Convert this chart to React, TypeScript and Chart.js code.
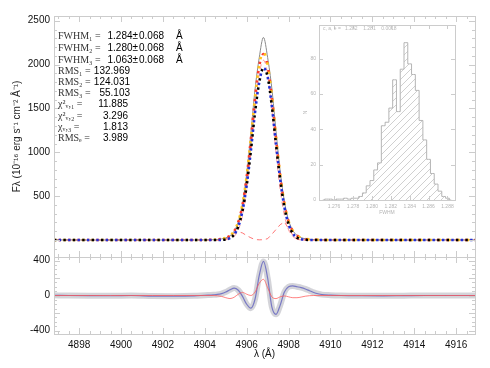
import React, { useEffect, useRef } from 'react';
import { Chart, registerables } from 'chart.js';

Chart.register(...registerables);

// ---------- data: line profile (top panel) ----------
const wavelength = [
  4896.8, 4897.5, 4898.5, 4899.5, 4900.5, 4901.5, 4902.5, 4903.5, 4904.0,
  4904.4, 4904.6, 4904.8, 4905.0, 4905.2, 4905.4, 4905.6, 4905.8, 4906.0, 4906.2,
  4906.4, 4906.6, 4906.8, 4907.0, 4907.2, 4907.4, 4907.6, 4907.8, 4908.0, 4908.2,
  4908.4, 4908.6, 4908.8, 4909.0, 4909.2, 4909.4, 4909.6,
  4910.0, 4910.5, 4911.5, 4912.5, 4913.5, 4914.5, 4915.5, 4916.5, 4916.9,
];
const observedFlux = [
  0, 1, -1, 0, 1, 0, -1, 0, 1,
  3, 6, 12, 24, 48, 100, 210, 420, 760, 1220, 1720, 2080, 2310, 2080, 1730, 1240, 780, 440,
  225, 110, 54, 27, 14, 7, 4, 2, 1,
  0, 0, 1, 0, -1, 0, 1, 0, 0,
];
const fit1Flux = [
  0, 0, 0, 0, 0, 0, 0, 0, 0,
  3, 6, 12, 24, 50, 102, 210, 410, 730, 1160, 1630, 2000, 2140, 2000, 1640, 1170, 740, 420,
  215, 105, 52, 26, 13, 7, 4, 2, 1,
  0, 0, 0, 0, 0, 0, 0, 0, 0,
];
const fit2Flux = [
  0, 0, 0, 0, 0, 0, 0, 0, 0,
  3, 6, 11, 23, 48, 98, 205, 400, 720, 1150, 1620, 1985, 2120, 1985, 1625, 1160, 730, 410,
  210, 102, 50, 25, 12, 6, 3, 2, 1,
  0, 0, 0, 0, 0, 0, 0, 0, 0,
];
const fit3Flux = [
  0, 0, 0, 0, 0, 0, 0, 0, 0,
  0, 0, 2, 7, 22, 62, 155, 333, 625, 1020, 1460, 1800, 1960, 1860, 1530, 1090, 690, 375,
  180, 75, 27, 9, 3, 0, 0, 0, 0,
  0, 0, 0, 0, 0, 0, 0, 0, 0,
];
const mainComponent = [
  0, 0, 0, 0, 0, 0, 0, 0, 0,
  0, 0, 1, 3, 12, 41, 115, 277, 570, 1000, 1490, 1890, 2050, 1890, 1490, 1000, 570, 277,
  115, 41, 12, 3, 1, 0, 0, 0, 0,
  0, 0, 0, 0, 0, 0, 0, 0, 0,
];
const wingComponents = [
  0, 0, 0, 0, 0, 0, 0, 0, 0,
  0, 0, 0, 10, 40, 75, 95, 80, 50, 25, 5, 2, 3, 15, 65, 120, 175, 205,
  130, 55, 8, 0, 0, 0, 0, 0, 0,
  0, 0, 0, 0, 0, 0, 0, 0, 0,
];

// ---------- data: residuals (bottom panel) ----------
const residualData = [
  2, 0, -2, -3, 0, -6, -8, -4, 3,
  8, 12, 22, 40, 65, 85, 60, -10, -100, -145, -40, 230, 390, 200, -130, -215, -110, 40,
  100, 110, 100, 90, 75, 55, 35, 20, 10,
  4, 0, -3, -4, -2, 0, 0, 0, 0,
];
const residualFit = [
  0, 0, 0, 0, 0, 0, 0, 0, 0,
  0, -3, -10, -25, -35, -20, 15, 35, 15, 0, 40, 140, 185, 90, -15, -35, -15, -5,
  -15, -25, -25, -18, -8, -2, 0, 0, 0,
  0, 0, 0, 0, 0, 0, 0, 0, 0,
];

const xTickValues = [4898, 4900, 4902, 4904, 4906, 4908, 4910, 4912, 4914, 4916];
const fluxTickValues = [500, 1000, 1500, 2000, 2500];
const residualTickValues = [-400, -200, 0, 200, 400];

// ---------- data: fit statistics ----------
const fwhmValues = [1.284, 1.28, 1.063];
const fwhmError = 0.068;
const rmsValues = [132.969, 124.031, 55.103];
const chiValues = [11.885, 3.296, 1.813];
const rmsResidual = 3.989;

// ---------- data: inset histogram ----------
const histBins = [
  1.2748, 1.2752, 1.2756, 1.276, 1.2764, 1.2768, 1.2772, 1.2776, 1.278, 1.2784, 1.2788, 1.2792,
  1.2796, 1.28, 1.2804, 1.2808, 1.2812, 1.2816, 1.282, 1.2824, 1.2828, 1.2832, 1.2836, 1.284,
  1.2844, 1.2848, 1.2852, 1.2856, 1.286, 1.2864, 1.2868, 1.2872, 1.2876, 1.288, 1.2884,
];
const histCounts = [
  0, 0.5, 0.5, 0, 0.5, 0.5, 1, 0.5, 1, 1, 2, 4,
  8, 11, 17, 21, 42, 44, 52, 68, 50, 74, 89, 77,
  71, 62, 45, 34, 23, 15, 9, 5, 2, 1, 0,
];
const histTickValues = [1.276, 1.278, 1.28, 1.282, 1.284, 1.286, 1.288];
const histCountTicks = [0, 20, 40, 60, 80];
const histSummary = [1.282, 1.281, 0.0018];

const SANS = '"Liberation Sans", Arial, sans-serif';
const SERIF = '"Liberation Serif", "Times New Roman", serif';
const FRAME = '#cccccc';

const pts = (ys: number[]) => wavelength.map((x, i) => ({ x, y: ys[i] }));

const framePlugin = {
  id: 'panelFrames',
  afterDatasetsDraw(chart: any) {
    const { ctx } = chart;
    const x = chart.scales.x;
    ctx.save();
    ctx.strokeStyle = FRAME;
    ctx.lineWidth = 1;
    const panels: [string, number, number][] = [['y', 500, 100], ['yRes', 200, 50]];
    for (const [id, major, minor] of panels) {
      const s = chart.scales[id];
      ctx.strokeRect(Math.round(x.left) + 0.5, Math.round(s.top) + 0.5, Math.round(x.right - x.left), Math.round(s.bottom - s.top));
      ctx.beginPath();
      for (let k = Math.ceil(x.min * 2); k <= x.max * 2; k++) {
        const v = k / 2;
        const px = Math.round(x.getPixelForValue(v)) + 0.5;
        const len = k % 4 === 0 ? 6 : 3;
        ctx.moveTo(px, s.top); ctx.lineTo(px, s.top + len);
        ctx.moveTo(px, s.bottom); ctx.lineTo(px, s.bottom - len);
      }
      for (let k = Math.ceil(s.min / minor); k * minor <= s.max; k++) {
        const v = k * minor;
        const py = Math.round(s.getPixelForValue(v)) + 0.5;
        const len = v % major === 0 ? 6 : 3;
        ctx.moveTo(x.left, py); ctx.lineTo(x.left + len, py);
        ctx.moveTo(x.right, py); ctx.lineTo(x.right - len, py);
      }
      ctx.stroke();
    }
    ctx.restore();
  },
};

const statsPlugin = {
  id: 'fitStats',
  afterDraw(chart: any) {
    const { ctx } = chart;
    ctx.save();
    ctx.textBaseline = 'middle';
    const labelFont = `10px ${SERIF}`;
    const valueFont = `10px ${SANS}`;
    const x0 = 58;
    const rowY = [36, 48, 60, 71, 82, 93, 104, 116, 127, 138];
    const sub = ['₁', '₂', '₃'];
    const labelColor = '#333';
    const valueColor = '#000';
    for (let i = 0; i < 3; i++) {
      ctx.font = labelFont; ctx.fillStyle = labelColor; ctx.textAlign = 'left';
      ctx.fillText(`FWHM${sub[i]} =`, x0, rowY[i]);
      ctx.font = valueFont; ctx.fillStyle = valueColor; ctx.textAlign = 'right';
      ctx.fillText(`${fwhmValues[i].toFixed(3)}±`, 138, rowY[i]);
      ctx.fillText(fwhmError.toFixed(3), 164, rowY[i]);
      ctx.textAlign = 'left';
      ctx.fillText('Å', 176, rowY[i]);
    }
    for (let i = 0; i < 3; i++) {
      ctx.font = labelFont; ctx.fillStyle = labelColor; ctx.textAlign = 'left';
      ctx.fillText(`RMS${sub[i]} =`, x0, rowY[3 + i]);
      ctx.font = valueFont; ctx.fillStyle = valueColor; ctx.textAlign = 'right';
      ctx.fillText(rmsValues[i].toFixed(3), 130, rowY[3 + i]);
    }
    const chiLabels = ['χ²ᵥ,₁ =', 'χ²ᵥ,₂ =', 'χᵥ,₃ ='];
    for (let i = 0; i < 3; i++) {
      ctx.font = labelFont; ctx.fillStyle = labelColor; ctx.textAlign = 'left';
      ctx.fillText(chiLabels[i], x0, rowY[6 + i]);
      ctx.font = valueFont; ctx.fillStyle = valueColor; ctx.textAlign = 'right';
      ctx.fillText(chiValues[i].toFixed(3), 128, rowY[6 + i]);
    }
    ctx.font = labelFont; ctx.fillStyle = labelColor; ctx.textAlign = 'left';
    ctx.fillText('RMSₑ =', x0, rowY[9]);
    ctx.font = valueFont; ctx.fillStyle = valueColor; ctx.textAlign = 'right';
    ctx.fillText(rmsResidual.toFixed(3), 128, rowY[9]);
    ctx.restore();
  },
};

function dotted(data: number[], color: string, offset: number) {
  return {
    data: pts(data),
    yAxisID: 'y',
    borderColor: color,
    borderWidth: 2.6,
    borderDash: [2.4, 7.0],
    borderDashOffset: offset,
    pointRadius: 0,
    cubicInterpolationMode: 'monotone',
    fill: false,
  };
}

function MainChart() {
  const ref = useRef<HTMLCanvasElement>(null);
  useEffect(() => {
    const tickFont = { family: SANS, size: 10 };
    const chart = new Chart(ref.current as HTMLCanvasElement, {
      type: 'line',
      data: {
        datasets: [
          dotted(fit3Flux, '#000000', 0),
          dotted(fit3Flux, '#1f2fd6', 4.7),
          dotted(fit1Flux, '#ffc21a', 0),
          dotted(fit2Flux, '#ff3a2a', 4.7),
          {
            data: pts(observedFlux), yAxisID: 'y', borderColor: '#8a8a8a', borderWidth: 1,
            pointRadius: 0, cubicInterpolationMode: 'monotone',
          },
          {
            data: pts(mainComponent), yAxisID: 'y', borderColor: 'rgba(255,100,100,0.65)', borderWidth: 1,
            borderDash: [5, 4], pointRadius: 0, cubicInterpolationMode: 'monotone',
          },
          {
            data: pts(wingComponents), yAxisID: 'y', borderColor: 'rgba(255,90,90,0.85)', borderWidth: 1,
            borderDash: [5, 4], pointRadius: 0, tension: 0,
          },
          {
            data: pts(residualFit), yAxisID: 'yRes', borderColor: 'rgba(255,90,90,0.75)', borderWidth: 1,
            pointRadius: 0, cubicInterpolationMode: 'monotone',
          },
          {
            data: pts(residualData), yAxisID: 'yRes', borderColor: 'rgba(90,90,190,0.75)', borderWidth: 1.2,
            pointRadius: 0, cubicInterpolationMode: 'monotone',
          },
          {
            data: pts(residualData), yAxisID: 'yRes', borderColor: 'rgba(160,160,170,0.45)', borderWidth: 6,
            pointRadius: 0, cubicInterpolationMode: 'monotone',
          },
        ] as any,
      },
      options: {
        animation: false,
        responsive: true,
        maintainAspectRatio: false,
        devicePixelRatio: 1,
        events: [],
        layout: { padding: { left: 0, top: 16, right: 15, bottom: 0 } },
        plugins: { legend: { display: false }, tooltip: { enabled: false } },
        scales: {
          x: {
            type: 'linear', min: 4896.8, max: 4916.9,
            grid: { display: false, drawTicks: false },
            border: { display: false },
            afterBuildTicks: (s: any) => { s.ticks = xTickValues.map((v) => ({ value: v })); },
            afterFit: (s: any) => { s.height = 34; },
            ticks: { font: tickFont, color: '#111', padding: 5, maxRotation: 0, callback: (v: any) => String(v) },
            title: { display: true, text: 'λ (Å)', font: { family: SANS, size: 10 }, color: '#111', padding: { top: 0, bottom: 8 } },
          },
          yRes: {
            type: 'linear', position: 'left', stack: 'panels', stackWeight: 1,
            min: -440, max: 440,
            grid: { display: false, drawTicks: false },
            border: { display: false },
            afterBuildTicks: (s: any) => { s.ticks = residualTickValues.map((v) => ({ value: v })); },
            afterFit: (s: any) => { s.width = 54; },
            ticks: { font: tickFont, color: '#111', padding: 4, callback: (v: any) => String(v) },
          },
          y: {
            type: 'linear', position: 'left', stack: 'panels', stackWeight: 3.13,
            min: -194, max: 2554,
            grid: { display: false, drawTicks: false },
            border: { display: false },
            afterBuildTicks: (s: any) => { s.ticks = fluxTickValues.map((v) => ({ value: v })); },
            afterFit: (s: any) => { s.width = 54; },
            ticks: { font: tickFont, color: '#111', padding: 4, callback: (v: any) => String(v) },
            title: {
              display: true, text: 'Fλ (10⁻¹⁶ erg s⁻¹ cm⁻² Å⁻¹)',
              font: { family: SANS, size: 10 }, color: '#222', padding: { top: 11, bottom: 0 },
            },
          },
        } as any,
      },
      plugins: [framePlugin, statsPlugin],
    });
    return () => chart.destroy();
  }, []);
  return (
    <div style={{ position: 'absolute', left: 0, top: 0, width: 490, height: 368 }}>
      <canvas ref={ref} />
    </div>
  );
}

const insetFramePlugin = {
  id: 'insetFrame',
  afterDatasetsDraw(chart: any) {
    const { ctx } = chart;
    const x = chart.scales.x;
    const y = chart.scales.y;
    ctx.save();
    ctx.strokeStyle = FRAME;
    ctx.lineWidth = 1;
    ctx.strokeRect(Math.round(x.left) + 0.5, Math.round(y.top) + 0.5, Math.round(x.right - x.left), Math.round(y.bottom - y.top));
    ctx.beginPath();
    for (const v of histTickValues) {
      const px = Math.round(x.getPixelForValue(v)) + 0.5;
      ctx.moveTo(px, y.bottom); ctx.lineTo(px, y.bottom - 4);
      ctx.moveTo(px, y.top); ctx.lineTo(px, y.top + 4);
    }
    for (const v of histCountTicks) {
      const py = Math.round(y.getPixelForValue(v)) + 0.5;
      ctx.moveTo(x.left, py); ctx.lineTo(x.left + 4, py);
      ctx.moveTo(x.right, py); ctx.lineTo(x.right - 4, py);
    }
    ctx.stroke();
    ctx.fillStyle = '#b8b8b8';
    ctx.font = `5px ${SANS}`;
    ctx.textBaseline = 'middle';
    ctx.textAlign = 'left';
    ctx.fillText(`c, a, e =   ${histSummary[0].toFixed(3)}    ${histSummary[1].toFixed(3)}    ${histSummary[2].toFixed(4)}`, x.left + 4, y.top + 4);
    ctx.restore();
  },
};

function InsetHistogram() {
  const ref = useRef<HTMLCanvasElement>(null);
  useEffect(() => {
    const canvas = ref.current as HTMLCanvasElement;
    const tile = document.createElement('canvas');
    tile.width = 7; tile.height = 7;
    const tc = tile.getContext('2d') as CanvasRenderingContext2D;
    tc.strokeStyle = '#c4c4c4';
    tc.lineWidth = 0.8;
    tc.beginPath();
    tc.moveTo(0, 7); tc.lineTo(7, 0);
    tc.moveTo(-1, 1); tc.lineTo(1, -1);
    tc.moveTo(6, 8); tc.lineTo(8, 6);
    tc.stroke();
    const pattern = (canvas.getContext('2d') as CanvasRenderingContext2D).createPattern(tile, 'repeat');
    const tiny = { family: SANS, size: 5 };
    const chart = new Chart(canvas, {
      type: 'line',
      data: {
        datasets: [{
          data: histBins.map((b, i) => ({ x: b, y: histCounts[i] })),
          backgroundColor: pattern as any,
          borderColor: '#b5b5b5',
          borderWidth: 1,
          stepped: 'middle',
          fill: 'origin',
          pointRadius: 0,
        }] as any,
      },
      options: {
        animation: false,
        responsive: true,
        maintainAspectRatio: false,
        devicePixelRatio: 1,
        events: [],
        layout: { padding: { left: 0, top: 10, right: 10, bottom: 0 } },
        plugins: { legend: { display: false }, tooltip: { enabled: false } },
        scales: {
          x: {
            type: 'linear', min: 1.2744, max: 1.2888,
            grid: { display: false, drawTicks: false },
            border: { display: false },
            afterBuildTicks: (s: any) => { s.ticks = histTickValues.map((v) => ({ value: v })); },
            afterFit: (s: any) => { s.height = 25; },
            ticks: { font: tiny, color: '#b5b5b5', padding: 4, maxRotation: 0, callback: (v: any) => Number(v).toFixed(3) },
            title: { display: true, text: 'FWHM', font: tiny, color: '#b5b5b5', padding: { top: 0, bottom: 9 } },
          },
          y: {
            type: 'linear', min: 0, max: 99,
            grid: { display: false, drawTicks: false },
            border: { display: false },
            afterBuildTicks: (s: any) => { s.ticks = histCountTicks.map((v) => ({ value: v })); },
            afterFit: (s: any) => { s.width = 29; },
            ticks: { font: tiny, color: '#b5b5b5', padding: 3, callback: (v: any) => String(v) },
            title: { display: true, text: 'N', font: tiny, color: '#b5b5b5', padding: { top: 13, bottom: 0 } },
          },
        } as any,
      },
      plugins: [insetFramePlugin],
    });
    return () => chart.destroy();
  }, []);
  return (
    <div style={{ position: 'absolute', left: 290, top: 15, width: 175, height: 210 }}>
      <canvas ref={ref} />
    </div>
  );
}

export default function App() {
  return (
    <div style={{ position: 'absolute', left: 0, top: 0, width: 490, height: 368, background: '#ffffff' }}>
      <MainChart />
      <InsetHistogram />
    </div>
  );
}
